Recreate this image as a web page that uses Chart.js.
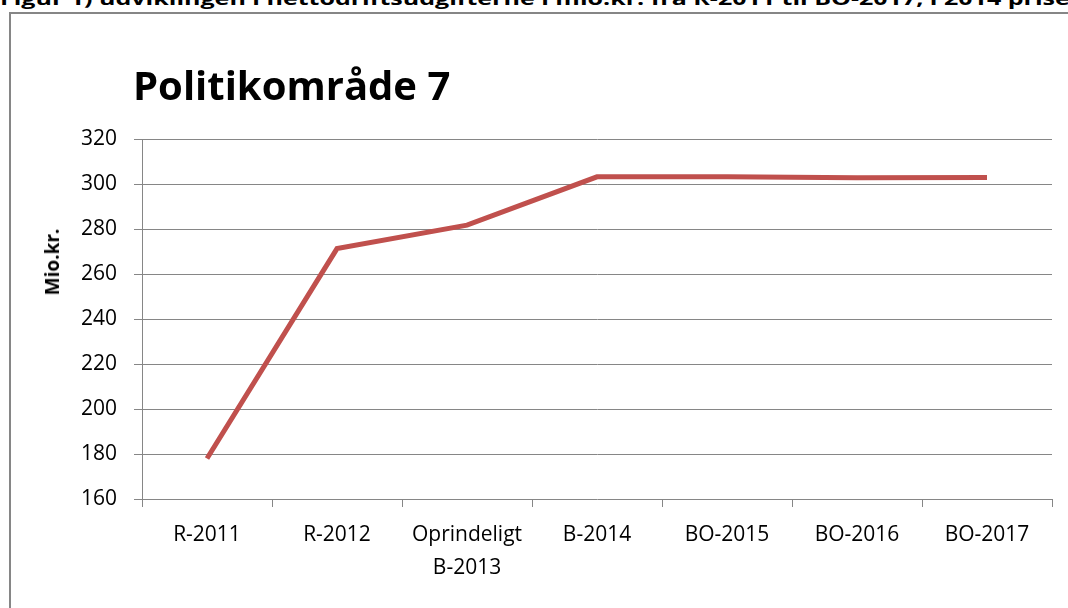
<!DOCTYPE html>
<html>
<head>
<meta charset="utf-8">
<script src="https://cdn.jsdelivr.net/npm/chart.js@4"></script>
<style>
  html, body { margin: 0; padding: 0; background: #fff; overflow: hidden; }
  body { width: 1068px; height: 608px; position: relative; font-family: 'Open Sans', sans-serif; }
  #header { position: absolute; left: 0; top: -14px; white-space: nowrap; font-weight: bold; font-size: 18px; color: #000; transform: scaleX(1.39); transform-origin: 0 0; }
  #frame { position: absolute; left: 9px; top: 12px; width: 1100px; height: 650px; border: 2px solid #868686; }
  #title { position: absolute; left: 133px; top: 57px; font-weight: bold; font-size: 40px; color: #000; white-space: nowrap; }
  #ytitle { position: absolute; left: 52px; top: 262px; transform: translate(-50%, -50%) rotate(-90deg); font-weight: bold; font-size: 19px; white-space: nowrap; }
  #wrap { position: absolute; left: 0; top: 0; width: 1068px; height: 608px; }
</style>
</head>
<body>
<div id="header">Figur 1) udviklingen i nettodriftsudgifterne i mio.kr. fra R-2011 til BO-2017, i 2014 priser</div>
<div id="frame"></div>
<div id="wrap"><canvas id="myChart" width="1068" height="608"></canvas></div>
<div id="title">Politikområde 7</div>
<div id="ytitle">Mio.kr.</div>
<script>
var labels = ['R-2011', 'R-2012', ['Oprindeligt', 'B-2013'], 'B-2014', 'BO-2015', 'BO-2016', 'BO-2017'];
var values = [178, 271.3, 281.7, 303.2, 303.2, 302.8, 302.9];
var yTicks = [160, 180, 200, 220, 240, 260, 280, 300, 320];

var gridColor = '#868686';

var ctx = document.getElementById('myChart').getContext('2d');
var chart = new Chart(ctx, {
    type: 'line',
    data: {
        labels: labels,
        datasets: [{
            label: 'Politikområde 7',
            data: values,
            borderColor: '#C0504D',
            borderWidth: 5,
            pointRadius: 0,
            tension: 0,
            borderCapStyle: 'butt'
        }]
    },
    options: {
        responsive: false,
        animation: false,
        layout: { padding: { top: 139, right: 16, bottom: 0, left: 0 } },
        plugins: {
            legend: { display: false },
            title: { display: false },
            tooltip: { enabled: false }
        },
        scales: {
            x: {
                offset: true,
                grid: { offset: true, drawOnChartArea: false, drawTicks: true, tickLength: 8, color: gridColor, lineWidth: 1 },
                border: { display: false },
                ticks: { color: '#000', font: { family: 'Open Sans', size: 21, lineHeight: 1.55 }, padding: 12, maxRotation: 0, autoSkip: false },
                afterFit: function (s) { s.height = 608 - 499; }
            },
            y: {
                min: 160,
                max: 320,
                afterBuildTicks: function (s) { s.ticks = yTicks.map(function (v) { return { value: v }; }); },
                grid: { color: gridColor, lineWidth: 1, tickLength: 8 },
                border: { color: gridColor, width: 1 },
                ticks: { color: '#000', font: { family: 'Open Sans', size: 21 }, padding: 17 },
                afterFit: function (s) { s.width = 142; }
            }
        }
    }
});
</script>
</body>
</html>
